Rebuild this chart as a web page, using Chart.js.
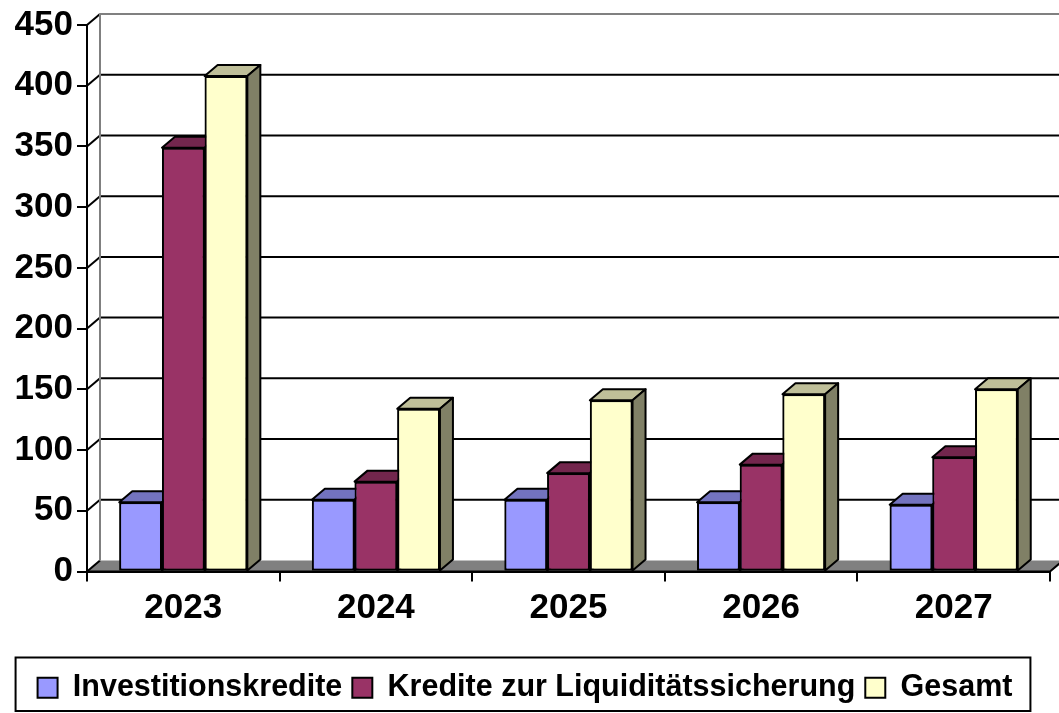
<!DOCTYPE html>
<html>
<head>
<meta charset="utf-8">
<script src="https://cdn.jsdelivr.net/npm/chart.js@4/dist/chart.umd.min.js"></script>
<style>
  html, body { margin: 0; padding: 0; background: #fff; }
</style>
</head>
<body>
<canvas id="kreditChart" width="1059" height="713"></canvas>
<script>
// Daten
const jahre = ["2023", "2024", "2025", "2026", "2027"];
const investitionskredite = [57, 59, 59, 57, 55];
const liquiditaetskredite = [349, 74, 81, 88, 94];
const gesamt = [408, 134, 141, 146, 150];
const yTicks = [0, 50, 100, 150, 200, 250, 300, 350, 400, 450];

const frontColors = ["#9999FF", "#993366", "#FFFFCC"];
const topColors = ["#7373BF", "#73264D", "#BFBF99"];
const sideColors = ["#4D4D80", "#4D1A33", "#808066"];

// Tiefe der 3D-Darstellung
const DX = 13;
const DY = 11;

const axisFont = { family: "'Liberation Sans', Arial, sans-serif", size: 35, weight: "bold" };
const legendFont = { family: "'Liberation Sans', Arial, sans-serif", size: 30.5, weight: "bold" };

/**
 * Rückwand, Boden, Gitterlinien und 3D-Flächen der Balken
 */
const wallPlugin = {
    id: "wall3d",
    beforeDatasetsDraw(chart) {
        const { ctx, chartArea } = chart;
        const y = chart.scales.y;
        const left = chartArea.left, right = chartArea.right;
        const y0 = y.getPixelForValue(0);
        const yTop = y.getPixelForValue(yTicks[yTicks.length - 1]);

        ctx.save();
        // Boden
        ctx.fillStyle = "#808080";
        ctx.beginPath();
        ctx.moveTo(left, y0);
        ctx.lineTo(right, y0);
        ctx.lineTo(right + DX, y0 - DY);
        ctx.lineTo(left + DX, y0 - DY);
        ctx.closePath();
        ctx.fill();

        ctx.lineWidth = 2;
        // Gitterlinien auf der Rückwand
        yTicks.forEach(v => {
            const py = y.getPixelForValue(v);
            if (v > 0) {
                ctx.strokeStyle = v === yTicks[yTicks.length - 1] ? "#808080" : "#000";
                ctx.beginPath();
                ctx.moveTo(left + DX, py - DY);
                ctx.lineTo(chart.width + DX, py - DY);
                ctx.stroke();
            }
            ctx.strokeStyle = "#000";
            ctx.beginPath();
            ctx.moveTo(left, py);
            ctx.lineTo(left + DX, py - DY);
            ctx.stroke();
        });

        // linke Kante der Rückwand
        ctx.strokeStyle = "#808080";
        ctx.beginPath();
        ctx.moveTo(left + DX, yTop - DY);
        ctx.lineTo(left + DX, y0 - DY);
        ctx.stroke();

        // Vorderkante + rechte Kante des Bodens
        ctx.strokeStyle = "#000";
        ctx.beginPath();
        ctx.moveTo(left, y0);
        ctx.lineTo(right, y0);
        ctx.lineTo(right + DX, y0 - DY);
        ctx.stroke();
        ctx.restore();
    },
    afterDatasetsDraw(chart) {
        // Balken von links nach rechts neu zeichnen, damit die Flächen richtig überdecken
        const { ctx } = chart;
        chart.data.datasets.forEach((ds, i) => {
            const meta = chart.getDatasetMeta(i);
            meta.data.forEach(bar => {
                bar.draw(ctx, chart.chartArea);
                const p = bar.getProps(["x", "y", "base", "width"], true);
                const l = p.x - p.width / 2;
                const r = p.x + p.width / 2;
                ctx.save();
                ctx.lineWidth = 2;
                ctx.lineJoin = "round";
                ctx.strokeStyle = "#000";
                // Deckfläche
                ctx.fillStyle = topColors[i];
                ctx.beginPath();
                ctx.moveTo(l, p.y);
                ctx.lineTo(r, p.y);
                ctx.lineTo(r + DX, p.y - DY);
                ctx.lineTo(l + DX, p.y - DY);
                ctx.closePath();
                ctx.fill();
                ctx.stroke();
                // Seitenfläche
                ctx.fillStyle = sideColors[i];
                ctx.beginPath();
                ctx.moveTo(r, p.y);
                ctx.lineTo(r + DX, p.y - DY);
                ctx.lineTo(r + DX, p.base - DY);
                ctx.lineTo(r, p.base);
                ctx.closePath();
                ctx.fill();
                ctx.stroke();
                ctx.restore();
            });
        });
    },
    afterDraw(chart) {
        // Rahmen um die Legende
        const lg = chart.legend;
        if (!lg || !lg.legendHitBoxes.length) return;
        const boxes = lg.legendHitBoxes;
        const minX = Math.min(...boxes.map(b => b.left));
        const maxX = Math.max(...boxes.map(b => b.left + b.width));
        const { ctx } = chart;
        ctx.save();
        ctx.strokeStyle = "#000";
        ctx.lineWidth = 2;
        ctx.strokeRect(minX - 22, lg.top - 5, (maxX - minX) + 40, lg.height + 3);
        ctx.restore();
    }
};

const ctx = document.getElementById("kreditChart").getContext("2d");

new Chart(ctx, {
    type: "bar",
    data: {
        labels: jahre,
        datasets: [
            { label: "Investitionskredite", data: investitionskredite, backgroundColor: frontColors[0] },
            { label: "Kredite zur Liquiditätssicherung", data: liquiditaetskredite, backgroundColor: frontColors[1] },
            { label: "Gesamt", data: gesamt, backgroundColor: frontColors[2] }
        ]
    },
    options: {
        responsive: false,
        devicePixelRatio: 1,
        animation: false,
        layout: { padding: { top: 23, right: 9, left: 0, bottom: 0 } },
        datasets: {
            bar: {
                borderColor: "#000",
                borderWidth: 2,
                borderSkipped: false,
                categoryPercentage: 0.665,
                barPercentage: 1
            }
        },
        scales: {
            x: {
                grid: { display: true, drawOnChartArea: false, offset: true, color: "#000", lineWidth: 2, tickLength: 10 },
                border: { display: true, color: "#000", width: 2 },
                ticks: { color: "#000", font: axisFont, padding: 6, maxRotation: 0 },
                afterFit(scale) { scale.height = 91; }
            },
            y: {
                min: 0,
                max: 450,
                grid: { display: true, drawOnChartArea: false, color: "#000", lineWidth: 2, tickLength: 10 },
                border: { display: true, color: "#000", width: 2 },
                ticks: { color: "#000", font: axisFont, stepSize: 50, padding: 4 },
                afterFit(scale) { scale.width = 87; }
            }
        },
        plugins: {
            legend: {
                position: "bottom",
                labels: {
                    color: "#000",
                    font: legendFont,
                    boxWidth: 20,
                    boxHeight: 20,
                    padding: 10
                }
            },
            tooltip: { enabled: false }
        }
    },
    plugins: [wallPlugin]
});
</script>
</body>
</html>
